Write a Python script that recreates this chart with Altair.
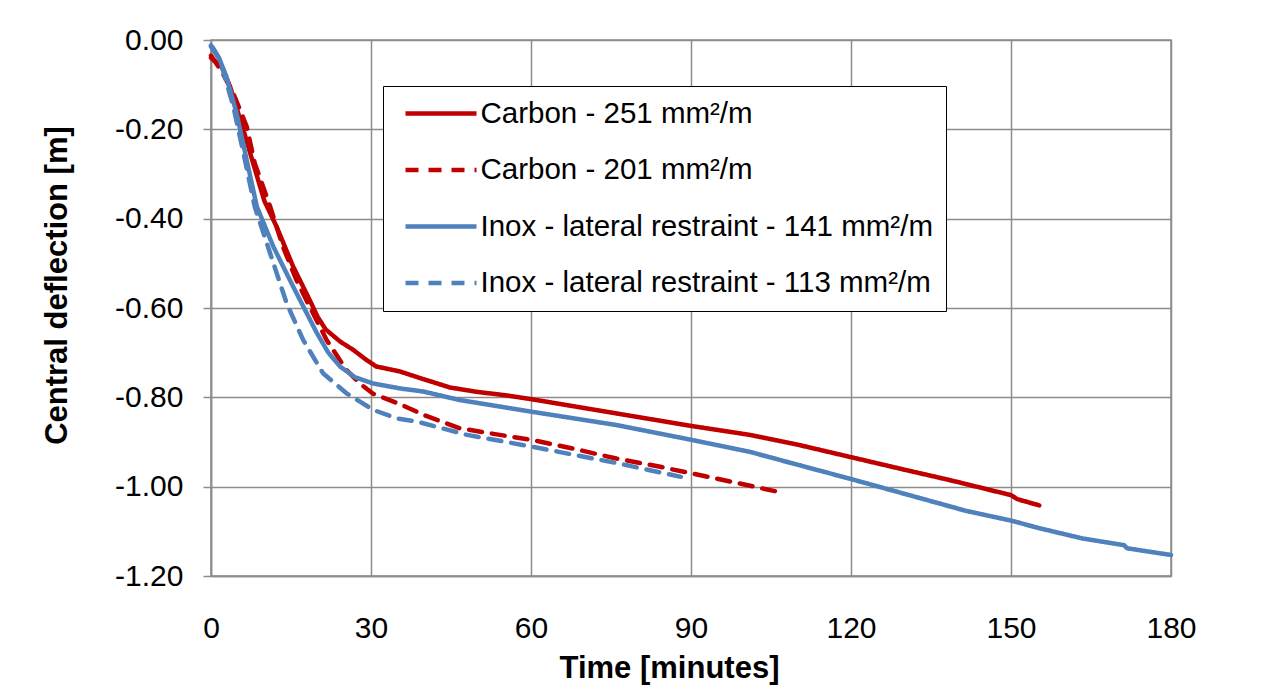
import altair as alt
import pandas as pd

series_names = [
    "Carbon - 251 mm²/m",
    "Carbon - 201 mm²/m",
    "Inox - lateral restraint - 141 mm²/m",
    "Inox - lateral restraint - 113 mm²/m",
]
series_colors = ["#C00000", "#C00000", "#4F81BD", "#4F81BD"]
series_dashes = [[1, 0], [13, 10], [1, 0], [13, 10]]

c251_t = [0, 2.0, 3.6, 5.0, 6.05, 8.0, 10.0, 12.3, 15.4, 18.5, 20.0, 21.5, 24.2, 26.7, 29.0, 31.0, 35.4,
          40, 44.8, 50, 55, 60, 70, 76, 90, 101, 110, 120, 130, 138.4, 150, 151.2, 155.3]
c251_d = [-0.040, -0.060, -0.105, -0.160, -0.200, -0.280, -0.360, -0.418, -0.507, -0.582, -0.620,
          -0.648, -0.675, -0.694, -0.715, -0.731, -0.742, -0.760, -0.778, -0.788, -0.795, -0.804,
          -0.824, -0.836, -0.864, -0.884, -0.906, -0.934, -0.962, -0.985, -1.019, -1.028, -1.042]

c201_t = [0, 2.0, 4.2, 6.7, 8.2, 11.1, 13.5, 16.0, 18.5, 21.7, 25.4, 28.0, 30.4, 35.4, 40, 46.6,
          52, 60, 68, 76, 84, 90, 98, 103, 106.9]
c201_d = [-0.035, -0.070, -0.120, -0.194, -0.276, -0.373, -0.463, -0.537, -0.597, -0.672, -0.739,
          -0.770, -0.792, -0.815, -0.840, -0.869, -0.880, -0.895, -0.915, -0.937, -0.955, -0.970,
          -0.990, -1.003, -1.013]

i141_t = [0, 0.4, 1.5, 2.9, 4.8, 6.7, 8.6, 11.7, 15.4, 19.8, 22.0, 24.2, 27.0, 30.4, 35.4, 39.8, 46.6,
          60, 76, 90, 101, 110, 120, 129.7, 141.5, 150, 155.3, 163.4, 171.2, 171.8, 180]
i141_d = [-0.012, -0.018, -0.040, -0.082, -0.164, -0.269, -0.373, -0.463, -0.552, -0.655, -0.700,
          -0.731, -0.755, -0.769, -0.780, -0.787, -0.806, -0.832, -0.862, -0.895, -0.922, -0.951,
          -0.983, -1.015, -1.054, -1.076, -1.093, -1.116, -1.131, -1.138, -1.153]

i113_t = [0, 1.7, 4.2, 6.1, 8.2, 11.1, 14.2, 17.3, 21.0, 25.4, 30.4, 34.8, 38.5, 48, 60, 76, 88.1]
i113_d = [-0.015, -0.045, -0.149, -0.254, -0.373, -0.478, -0.590, -0.672, -0.746, -0.791, -0.828,
          -0.847, -0.854, -0.884, -0.910, -0.947, -0.978]

x_ticks = [0, 30, 60, 90, 120, 150, 180]
y_ticks = [0.0, -0.2, -0.4, -0.6, -0.8, -1.0, -1.2]

rows = []
for name, ts, ds in zip(series_names, [c251_t, c201_t, i141_t, i113_t],
                        [c251_d, c201_d, i141_d, i113_d]):
    for i, (t, d) in enumerate(zip(ts, ds)):
        rows.append({"series": name, "t": t, "d": d, "idx": i})
df = pd.DataFrame(rows)

FONT = "Liberation Sans"
GRID = "#8C8C8C"

chart = alt.Chart(df).mark_line(strokeWidth=4.5, strokeCap="round", strokeJoin="round").encode(
    x=alt.X("t:Q",
            scale=alt.Scale(domain=[0, 180], nice=False),
            axis=alt.Axis(values=x_ticks, title="Time [minutes]", ticks=False, tickSize=0,
                          labelFlush=False,
                          labelPadding=37, labelFontSize=30, labelFont=FONT, labelColor="black",
                          titleFont=FONT, titleFontSize=31, titleFontWeight="bold", titleColor="black",
                          titleX=458, titleY=101, titleBaseline="alphabetic", titleAlign="center",
                          domainColor=GRID, domainWidth=1.5, gridColor=GRID, gridWidth=1.5)),
    y=alt.Y("d:Q",
            scale=alt.Scale(domain=[-1.2, 0], nice=False),
            axis=alt.Axis(values=y_ticks, title="Central deflection [m]",
                          labelExpr="(datum.value < -0.0001 ? '-' : '') + format(abs(datum.value), '.2f')",
                          labelFlush=False,
                          tickSize=8, tickColor=GRID, tickWidth=1.5, labelPadding=20,
                          labelFontSize=30, labelFont=FONT, labelColor="black",
                          titleFont=FONT, titleFontSize=31, titleFontWeight="bold", titleColor="black",
                          titleX=-145, titleY=245, titleBaseline="alphabetic", titleAlign="center",
                          titleAngle=270,
                          domainColor=GRID, domainWidth=1.5, gridColor=GRID, gridWidth=1.5)),
    color=alt.Color("series:N", title=None,
                    scale=alt.Scale(domain=series_names, range=series_colors)),
    strokeDash=alt.StrokeDash("series:N", title=None,
                              scale=alt.Scale(domain=series_names, range=series_dashes)),
    order=alt.Order("idx:Q"),
).properties(
    width=960, height=536,
    autosize=alt.AutoSizeParams(type="none"),
    padding={"left": 203, "top": 32, "right": 83, "bottom": 111},
).configure_view(
    stroke=GRID, strokeWidth=1.5
).configure_legend(
    orient="none", legendX=172, legendY=46,
    padding=13, rowPadding=26.5, clipHeight=29,
    symbolType="stroke", symbolSize=5041, symbolStrokeWidth=4.5,
    symbolOffset=7, labelOffset=1.5,
    labelFont=FONT, labelFontSize=29.5, labelColor="black", labelLimit=1000,
    strokeColor="black", fillColor="white",
)

chart.save("out.html", embed_options={"renderer": "svg", "actions": False})
